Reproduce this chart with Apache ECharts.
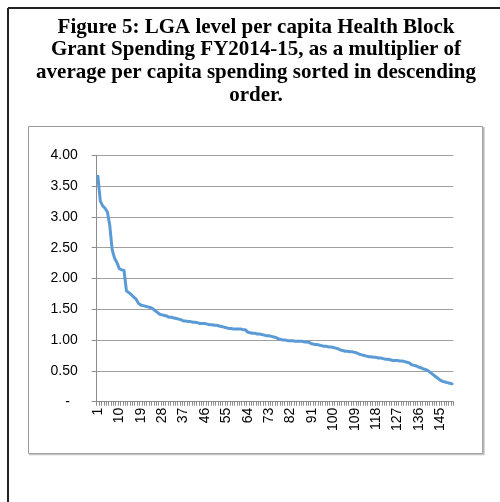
<!DOCTYPE html>
<html>
<head>
<meta charset="utf-8">
<script src="https://cdn.jsdelivr.net/npm/echarts@6/dist/echarts.min.js"></script>
<style>
  html, body { margin: 0; padding: 0; background: #fff; }
  #chart { width: 500px; height: 502px; }
</style>
</head>
<body>
<div id="chart"></div>
<script>
// Per capita Health Block Grant spending by LGA, FY2014-15,
// as a multiple of the average, sorted in descending order.
const titleLines = [
  'Figure 5: LGA level per capita Health Block',
  'Grant Spending FY2014-15, as a multiplier of',
  'average per capita spending sorted in descending',
  'order.'
];

const multipliers = [
  3.66, 3.26, 3.18, 3.14, 3.08, 2.86, 2.47, 2.33, 2.26, 2.16,
  2.14, 2.13, 1.80, 1.77, 1.74, 1.70, 1.67, 1.60, 1.57, 1.56,
  1.55, 1.54, 1.53, 1.51, 1.48, 1.45, 1.42, 1.41, 1.40, 1.39,
  1.37, 1.37, 1.36, 1.35, 1.34, 1.33, 1.31, 1.31, 1.30, 1.30,
  1.29, 1.29, 1.28, 1.27, 1.27, 1.27, 1.26, 1.25, 1.25, 1.24,
  1.24, 1.23, 1.22, 1.21, 1.20, 1.19, 1.19, 1.18, 1.18, 1.18,
  1.18, 1.17, 1.17, 1.13, 1.12, 1.11, 1.11, 1.10, 1.10, 1.09,
  1.08, 1.07, 1.07, 1.06, 1.05, 1.04, 1.02, 1.01, 1.00, 1.00,
  0.99, 0.99, 0.99, 0.98, 0.98, 0.98, 0.98, 0.97, 0.97, 0.96,
  0.94, 0.93, 0.93, 0.92, 0.91, 0.90, 0.90, 0.89, 0.89, 0.88,
  0.87, 0.86, 0.84, 0.83, 0.82, 0.82, 0.81, 0.81, 0.80, 0.79,
  0.77, 0.76, 0.75, 0.74, 0.73, 0.73, 0.72, 0.72, 0.71, 0.71,
  0.70, 0.69, 0.69, 0.68, 0.67, 0.67, 0.67, 0.66, 0.66, 0.65,
  0.64, 0.63, 0.60, 0.59, 0.58, 0.56, 0.55, 0.53, 0.52, 0.50,
  0.47, 0.44, 0.41, 0.38, 0.35, 0.33, 0.32, 0.31, 0.30, 0.29
];

// LGA rank numbers 1..N along the x axis
const ranks = multipliers.map((_, i) => String(i + 1));

const yMin = 0, yMax = 4, yStep = 0.5;

const chart = echarts.init(document.getElementById('chart'), null, { renderer: 'canvas' });

const axisFont = { fontFamily: '"Liberation Sans", Arial, sans-serif', fontSize: 14, color: '#000' };

chart.setOption({
  backgroundColor: '#fff',
  animation: false,
  title: {
    text: titleLines.join('\n'),
    left: 251,
    top: 11,
    textAlign: 'center',
    textStyle: {
      fontFamily: '"Liberation Serif", "Times New Roman", serif',
      fontWeight: 'bold',
      fontSize: 21,
      lineHeight: 22.7,
      color: '#000'
    }
  },
  graphic: [
    // outer frame (left and top edges)
    { type: 'line', shape: { x1: 8, y1: 8, x2: 8, y2: 502 }, style: { stroke: '#222', lineWidth: 2 } },
    { type: 'line', shape: { x1: 8, y1: 8, x2: 500, y2: 8 }, style: { stroke: '#222', lineWidth: 2 } },
    // chart area box
    { type: 'rect', shape: { x: 28.5, y: 126.5, width: 454, height: 327 }, style: { fill: 'none', stroke: '#9a9a9a', lineWidth: 1 } },
    { type: 'line', shape: { x1: 483.5, y1: 127, x2: 483.5, y2: 455 }, style: { stroke: '#b4b4b4', lineWidth: 2 } },
    { type: 'line', shape: { x1: 29, y1: 454.5, x2: 484, y2: 454.5 }, style: { stroke: '#c4c4c4', lineWidth: 1.5 } }
  ],
  grid: { left: 96.7, right: 46.7, top: 155.3, bottom: 100.3, containLabel: false },
  xAxis: {
    type: 'category',
    data: ranks,
    boundaryGap: true,
    axisLine: { show: true, lineStyle: { color: '#8c8c8c', width: 1 } },
    axisTick: { show: true, interval: 0, length: 4, lineStyle: { color: '#8c8c8c' } },
    axisLabel: Object.assign({ interval: 8, rotate: 90, margin: 6 }, axisFont),
    splitLine: { show: false }
  },
  yAxis: {
    type: 'value',
    min: yMin,
    max: yMax,
    interval: yStep,
    axisLine: { show: true, lineStyle: { color: '#8c8c8c', width: 1 } },
    axisTick: { show: true, length: 5, lineStyle: { color: '#8c8c8c' } },
    axisLabel: Object.assign({
      margin: 19,
      formatter: v => (v === 0 ? '-  ' : v.toFixed(2))
    }, axisFont),
    splitLine: { show: true, lineStyle: { color: '#a0a0a0', width: 1 } }
  },
  series: [{
    type: 'line',
    data: multipliers,
    showSymbol: false,
    smooth: false,
    lineStyle: { color: '#5B9BD5', width: 3, join: 'round', cap: 'round' },
    itemStyle: { color: '#5B9BD5' }
  }]
});
</script>
</body>
</html>
